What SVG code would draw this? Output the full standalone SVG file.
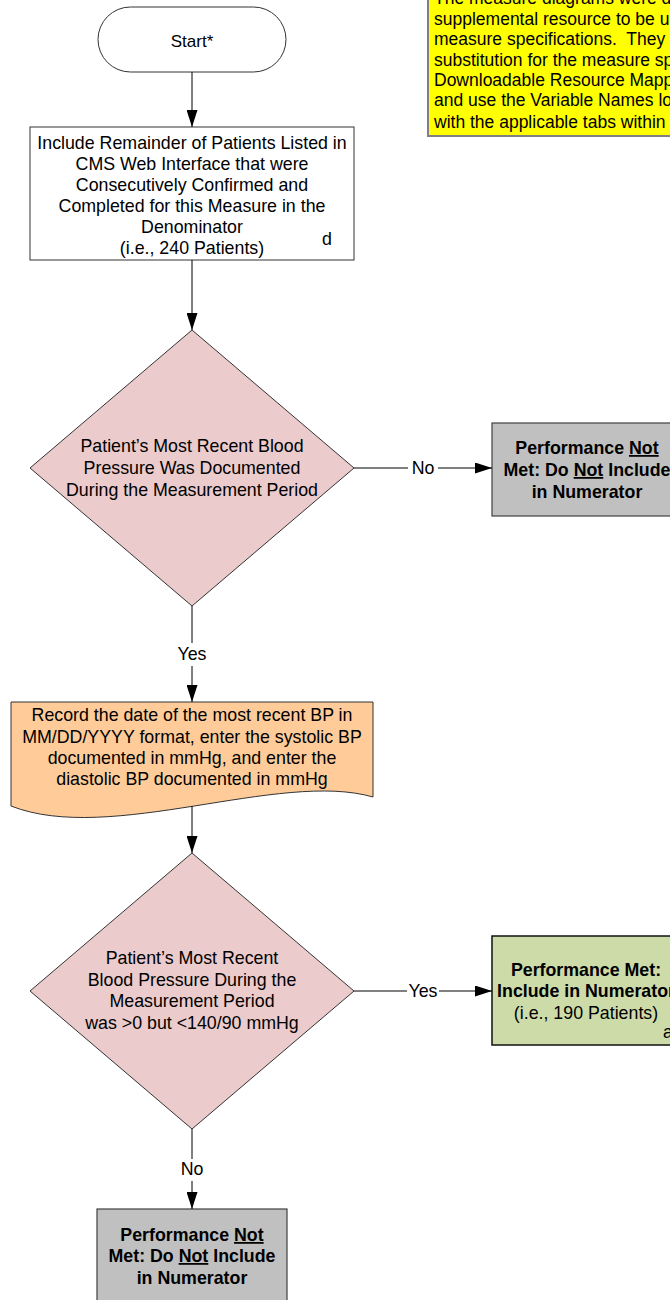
<svg xmlns="http://www.w3.org/2000/svg" width="670" height="1300" viewBox="0 0 670 1300">
<defs>
<marker id="arr" markerWidth="17" markerHeight="11" refX="17" refY="5.5" orient="auto" markerUnits="userSpaceOnUse"><path d="M0,0 L17,5.5 L0,11 Z" fill="#000"/></marker>
<style>
text{font-family:"Liberation Sans",Arial,sans-serif;font-size:17.8px;fill:#000}
.c{text-anchor:middle}
.b{font-weight:bold}
.u{text-decoration:underline}
.ln{stroke:#000;stroke-width:1;fill:none}
.arw{stroke:#000;stroke-width:1;fill:none;marker-end:url(#arr)}
.dia{fill:#EBCBCB;stroke:#333;stroke-width:1}
.box{fill:#fff;stroke:#333;stroke-width:1}
.gray{fill:#C0C0C0;stroke:#404040;stroke-width:1.2}
.green{fill:#CDDBA9;stroke:#111;stroke-width:1.5}
.doc{fill:#FFCC99;stroke:#333;stroke-width:1}
.note{fill:#FFFF00;stroke:#808080;stroke-width:2}
.nt{white-space:pre;font-size:17.5px}
</style>
</defs>
<rect width="670" height="1300" fill="#fff"/>

<g id="note">
<rect class="note" x="428" y="-5" width="260" height="141"/>
<text class="nt" x="434" y="4">The measure diagrams were d</text>
<text class="nt" x="434" y="25">supplemental resource to be u</text>
<text class="nt" x="434" y="45">measure specifications.  They</text>
<text class="nt" x="434" y="65.5">substitution for the measure sp</text>
<text class="nt" x="434" y="86">Downloadable Resource Mapp</text>
<text class="nt" x="434" y="106">and use the Variable Names lo</text>
<text class="nt" x="434" y="128">with the applicable tabs within</text>
</g>

<g id="start">
<rect class="box" x="98" y="7" width="188" height="65" rx="32.5" ry="32.5"/>
<text class="c" x="192" y="47" style="font-size:17px">Start*</text>
</g>

<g id="denominator">
<rect class="box" x="30" y="127" width="324" height="133"/>
<text class="c" x="192" y="149">Include Remainder of Patients Listed in</text>
<text class="c" x="192" y="170">CMS Web Interface that were</text>
<text class="c" x="192" y="191">Consecutively Confirmed and</text>
<text class="c" x="192" y="212">Completed for this Measure in the</text>
<text class="c" x="192" y="233">Denominator</text>
<text class="c" x="192" y="254">(i.e., 240 Patients)</text>
<text x="322" y="245">d</text>
</g>

<g id="decision1">
<polygon class="dia" points="192,330 354,468 192,606 30,468"/>
<text class="c" x="192" y="452">Patient’s Most Recent Blood</text>
<text class="c" x="192" y="474">Pressure Was Documented</text>
<text class="c" x="192" y="496">During the Measurement Period</text>
</g>

<g id="notmet1">
<rect class="gray" x="492" y="423" width="190" height="93"/>
<text class="c b" x="587" y="454">Performance <tspan class="u">Not</tspan></text>
<text class="c b" x="587" y="476">Met: Do <tspan class="u">Not</tspan> Include</text>
<text class="c b" x="587" y="498">in Numerator</text>
</g>

<g id="record">
<path class="doc" d="M11,702 L373,702 L373,797 C280,770 110,845 11,806 Z"/>
<text class="c" x="192" y="721">Record the date of the most recent BP in</text>
<text class="c" x="192" y="743">MM/DD/YYYY format, enter the systolic BP</text>
<text class="c" x="192" y="764">documented in mmHg, and enter the</text>
<text class="c" x="192" y="785">diastolic BP documented in mmHg</text>
</g>

<g id="decision2">
<polygon class="dia" points="192,853 354,991 192,1129 30,991"/>
<text class="c" x="192" y="964">Patient’s Most Recent</text>
<text class="c" x="192" y="985.5">Blood Pressure During the</text>
<text class="c" x="192" y="1007">Measurement Period</text>
<text class="c" x="192" y="1028.5">was &gt;0 but &lt;140/90 mmHg</text>
</g>

<g id="met">
<rect class="green" x="492" y="936" width="190" height="109"/>
<text class="c b" x="586" y="975.5">Performance Met:</text>
<text class="c b" x="586" y="996.5">Include in Numerator</text>
<text class="c" x="586" y="1018.5">(i.e., 190 Patients)</text>
<text x="663" y="1038">a</text>
</g>

<g id="notmet2">
<rect class="gray" x="97" y="1209" width="190" height="95"/>
<text class="c b" x="192" y="1241">Performance <tspan class="u">Not</tspan></text>
<text class="c b" x="192" y="1262">Met: Do <tspan class="u">Not</tspan> Include</text>
<text class="c b" x="192" y="1284">in Numerator</text>
</g>

<g id="connectors">
<path class="arw" d="M192,72 V127"/>
<path class="arw" d="M192,260 V330"/>
<path class="ln" d="M192,606 V643"/>
<path class="arw" d="M192,666 V702"/>
<text class="c" x="192" y="660">Yes</text>
<path class="ln" d="M354,468 H408"/>
<path class="arw" d="M438,468 H492"/>
<text class="c" x="423" y="474">No</text>
<path class="arw" d="M192,806 V853"/>
<path class="ln" d="M354,991 H407"/>
<path class="arw" d="M439,991 H492"/>
<text class="c" x="423" y="997">Yes</text>
<path class="ln" d="M192,1129 V1159"/>
<path class="arw" d="M192,1181 V1209"/>
<text class="c" x="192" y="1175">No</text>
</g>
</svg>
